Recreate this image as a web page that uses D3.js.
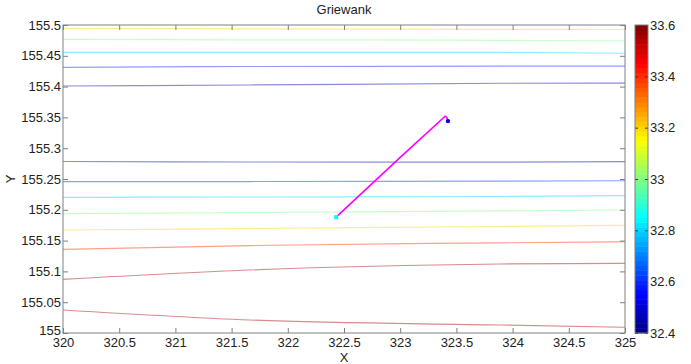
<!DOCTYPE html>
<html>
<head>
<meta charset="utf-8">
<script src="https://cdn.jsdelivr.net/npm/d3@7"></script>
<style>
  body { margin: 0; background: #fff; }
  text { font-family: "Liberation Sans", Arial, sans-serif; fill: #222; }
</style>
</head>
<body>
<div id="chart"></div>
<script>
// ---- data ----
var xTicks = [320, 320.5, 321, 321.5, 322, 322.5, 323, 323.5, 324, 324.5, 325];
var yTicks = [155, 155.05, 155.1, 155.15, 155.2, 155.25, 155.3, 155.35, 155.4, 155.45, 155.5];
var cTicks = [32.4, 32.6, 32.8, 33, 33.2, 33.4, 33.6];

// contour lines sampled at these x positions
var contourX = [320, 321.66, 323.89, 325];
var contourLevels = [33.2, 33.0, 32.8, 32.6, 32.45, 32.45, 32.6, 32.8, 33.0, 33.2, 33.4, 33.55, 33.55];
var contourY = [
  [155.4946, 155.4938, 155.4930, 155.4927],
  [155.4768, 155.4760, 155.4752, 155.4740],
  [155.4557, 155.4557, 155.4555, 155.4541],
  [155.4313, 155.4326, 155.4331, 155.4334],
  [155.4010, 155.4026, 155.4054, 155.4058],
  [155.2784, 155.2776, 155.2773, 155.2781],
  [155.2456, 155.2459, 155.2464, 155.2472],
  [155.2203, 155.2208, 155.2216, 155.2229],
  [155.1937, 155.1956, 155.1981, 155.1997],
  [155.1672, 155.1696, 155.1729, 155.1748],
  [155.1359, 155.1420, 155.1464, 155.1482],
  [155.0872, 155.1023, 155.1120, 155.1131],
  [155.0373, 155.0211, 155.0130, 155.0093]
];

// search path
var pathX = [322.43, 323.0, 323.40, 323.415, 323.425];
var pathY = [155.188, 155.285, 155.352, 155.350, 155.344];

var svgWidth = 691;
var svgHeight = 364;

var margin = { top: 25, right: 66, bottom: 31, left: 63 };
var width = svgWidth - margin.left - margin.right;
var height = svgHeight - margin.top - margin.bottom;

var svg = d3.select("#chart").append("svg")
    .attr("width", svgWidth)
    .attr("height", svgHeight);

var chartGroup = svg.append("g")
    .attr("transform", `translate(${margin.left}, ${margin.top})`);

var x = d3.scaleLinear().domain([320, 325]).range([0, width]);
var y = d3.scaleLinear().domain([155, 155.5]).range([height, 0]);
var cmin = 32.4, cmax = 33.6;

function jet(t) {
    function c(v) { return Math.max(0, Math.min(1, v)); }
    var r = c(1.5 - Math.abs(4 * t - 3));
    var g = c(1.5 - Math.abs(4 * t - 2));
    var b = c(1.5 - Math.abs(4 * t - 1));
    return d3.rgb(r * 255, g * 255, b * 255);
}

// contour lines are drawn faded, like the reference
function levelColor(level) {
    var t = (level - cmin) / (cmax - cmin);
    return d3.interpolateRgb(jet(t), "#ffffff")(0.55);
}

var fmt = d => String(+d.toFixed(2));

// contour lines
var line = d3.line()
    .x(d => x(d[0]))
    .y(d => y(d[1]))
    .curve(d3.curveMonotoneX);

chartGroup.selectAll(".contour")
    .data(contourY)
    .enter()
    .append("path")
    .attr("class", "contour")
    .attr("fill", "none")
    .attr("stroke", (d, i) => levelColor(contourLevels[i]))
    .attr("stroke-width", 1.2)
    .attr("d", d => line(d.map((v, j) => [contourX[j], v])));

// path
var pathPts = pathX.map((v, i) => [v, pathY[i]]);
chartGroup.append("path")
    .attr("fill", "none")
    .attr("stroke", "#ff00ff")
    .attr("stroke-width", 1.6)
    .attr("d", d3.line().x(d => x(d[0])).y(d => y(d[1]))(pathPts));

chartGroup.append("rect")
    .attr("x", x(pathX[0]) - 2)
    .attr("y", y(pathY[0]) - 2)
    .attr("width", 4)
    .attr("height", 4)
    .attr("fill", "#00ffff");

chartGroup.append("circle")
    .attr("cx", x(pathX[pathX.length - 1]))
    .attr("cy", y(pathY[pathY.length - 1]))
    .attr("r", 2.2)
    .attr("fill", "#0000ff");

// axes with inward ticks on all four sides
function styleAxis(g) {
    g.select(".domain").remove();
    g.selectAll(".tick line").attr("stroke", "#808080");
    g.selectAll(".tick text").attr("fill", "#222").style("font-size", "13px")
        .style("font-family", "'Liberation Sans', Arial, sans-serif");
}

chartGroup.append("g")
    .attr("transform", `translate(0, ${height})`)
    .call(d3.axisBottom(x).tickValues(xTicks).tickFormat(fmt).tickSize(-5).tickPadding(5))
    .call(styleAxis);

chartGroup.append("g")
    .call(d3.axisTop(x).tickValues(xTicks).tickFormat("").tickSize(-5))
    .call(styleAxis);

var yAxis = chartGroup.append("g")
    .call(d3.axisLeft(y).tickValues(yTicks).tickFormat(fmt).tickSize(-5).tickPadding(2))
    .call(styleAxis);

// bottom y label sits a touch higher so it clears the x label below
yAxis.selectAll(".tick text").filter(d => d === yTicks[0]).attr("dy", "0.1em");

chartGroup.append("g")
    .attr("transform", `translate(${width}, 0)`)
    .call(d3.axisRight(y).tickValues(yTicks).tickFormat("").tickSize(-5))
    .call(styleAxis);

chartGroup.append("rect")
    .attr("width", width)
    .attr("height", height)
    .attr("fill", "none")
    .attr("stroke", "#808080")
    .attr("stroke-width", 1);

// labels
chartGroup.append("text")
    .attr("x", width / 2)
    .attr("y", -11)
    .attr("text-anchor", "middle")
    .style("font-size", "13px")
    .text("Griewank");

chartGroup.append("text")
    .attr("x", width / 2)
    .attr("y", height + 29)
    .attr("text-anchor", "middle")
    .style("font-size", "13px")
    .text("X");

chartGroup.append("text")
    .attr("transform", `translate(${15 - margin.left}, ${y(155.25)}) rotate(-90)`)
    .attr("text-anchor", "middle")
    .style("font-size", "13px")
    .text("Y");

// colorbar
var cbX = 635, cbW = 13;
var cy = d3.scaleLinear().domain([cmin, cmax]).range([margin.top + height, margin.top]);
var nBands = 64;
var bands = d3.range(nBands);
var bandH = height / nBands;

svg.append("g").selectAll("rect")
    .data(bands)
    .enter()
    .append("rect")
    .attr("x", cbX)
    .attr("y", d => margin.top + height - (d + 1) * bandH)
    .attr("width", cbW)
    .attr("height", bandH + 0.5)
    .attr("fill", d => jet((d + 0.5) / nBands));

svg.append("g")
    .attr("transform", `translate(${cbX + cbW}, 0)`)
    .call(d3.axisRight(cy).tickValues(cTicks).tickFormat(fmt).tickSize(0).tickPadding(2))
    .call(styleAxis);

svg.append("g")
    .attr("transform", `translate(${cbX}, 0)`)
    .call(d3.axisRight(cy).tickValues(cTicks).tickFormat("").tickSize(3))
    .call(g => g.select(".domain").remove())
    .call(g => g.selectAll(".tick line").attr("stroke", "#333"));

svg.append("g")
    .attr("transform", `translate(${cbX + cbW}, 0)`)
    .call(d3.axisLeft(cy).tickValues(cTicks).tickFormat("").tickSize(3))
    .call(g => g.select(".domain").remove())
    .call(g => g.selectAll(".tick line").attr("stroke", "#333"));

svg.append("rect")
    .attr("x", cbX)
    .attr("y", margin.top)
    .attr("width", cbW)
    .attr("height", height)
    .attr("fill", "none")
    .attr("stroke", "#808080");
</script>
</body>
</html>
